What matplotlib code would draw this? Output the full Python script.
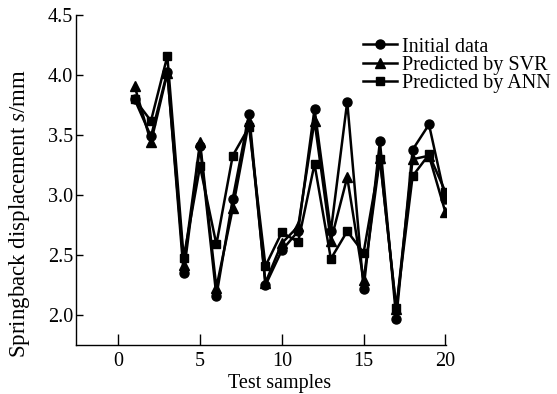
import matplotlib.pyplot as plt

# font setup: Times-like serif
plt.rcParams['font.family'] = 'Liberation Serif'
plt.rcParams['mathtext.fontset'] = 'custom'
plt.rcParams['mathtext.it'] = 'Liberation Serif:italic'
plt.rcParams['mathtext.rm'] = 'Liberation Serif'

samples = list(range(1, 21))
initial = [3.80, 3.49, 4.03, 2.35, 3.41, 2.16, 2.97, 3.68, 2.25, 2.54,
           2.70, 3.72, 2.70, 3.78, 2.22, 3.45, 1.97, 3.38, 3.59, 2.97]
svr = [3.91, 3.44, 4.02, 2.42, 3.44, 2.23, 2.89, 3.62, 2.27, 2.60,
       2.74, 3.62, 2.62, 3.15, 2.29, 3.31, 2.05, 3.30, 3.33, 2.86]
ann = [3.80, 3.62, 4.16, 2.48, 3.24, 2.59, 3.33, 3.57, 2.41, 2.69,
       2.61, 3.26, 2.47, 2.70, 2.52, 3.30, 2.06, 3.16, 3.34, 3.03]

fs = 14.5

fig = plt.figure(figsize=(5.57, 3.94), dpi=100)
ax = fig.add_axes([0.136, 0.124, 0.665, 0.837])

ax.plot(samples, initial, 'k-o', lw=1.8, ms=6.5, label='Initial data')
ax.plot(samples, svr, 'k-^', lw=1.8, ms=6.5, label='Predicted by SVR')
ax.plot(samples, ann, 'k-s', lw=1.8, ms=6, label='Predicted by ANN')

ax.set_xlim(-2.6, 20.05)
ax.set_ylim(1.75, 4.5)
ax.set_xticks([0, 5, 10, 15, 20])
ax.set_yticks([2.0, 2.5, 3.0, 3.5, 4.0, 4.5])
ax.set_yticklabels(['2.0', '2.5', '3.0', '3.5', '4.0', '4.5'])
ax.tick_params(direction='in', labelsize=fs, width=1, colors='black')
ax.tick_params(axis='x', length=8, pad=5)
ax.tick_params(axis='y', length=5, pad=2)
for side in ['top', 'right']:
    ax.spines[side].set_visible(False)
for side in ['left', 'bottom']:
    ax.spines[side].set_linewidth(1.0)

ax.set_xlabel('Test samples', fontsize=fs)
ax.set_ylabel('Springback displacement $s$/mm', fontsize=16.5)
# labels in the reference are not centred on the axes
ax.xaxis.set_label_coords(0.551, -0.088)
ax.yaxis.set_label_coords(-0.118, 0.398)

fig.legend(loc='upper left', bbox_to_anchor=(0.652, 0.905), frameon=False,
           fontsize=fs, handlelength=1.7, handletextpad=0.25,
           labelspacing=-0.05, borderaxespad=0, borderpad=0)

fig.savefig('out.png', dpi=100)
